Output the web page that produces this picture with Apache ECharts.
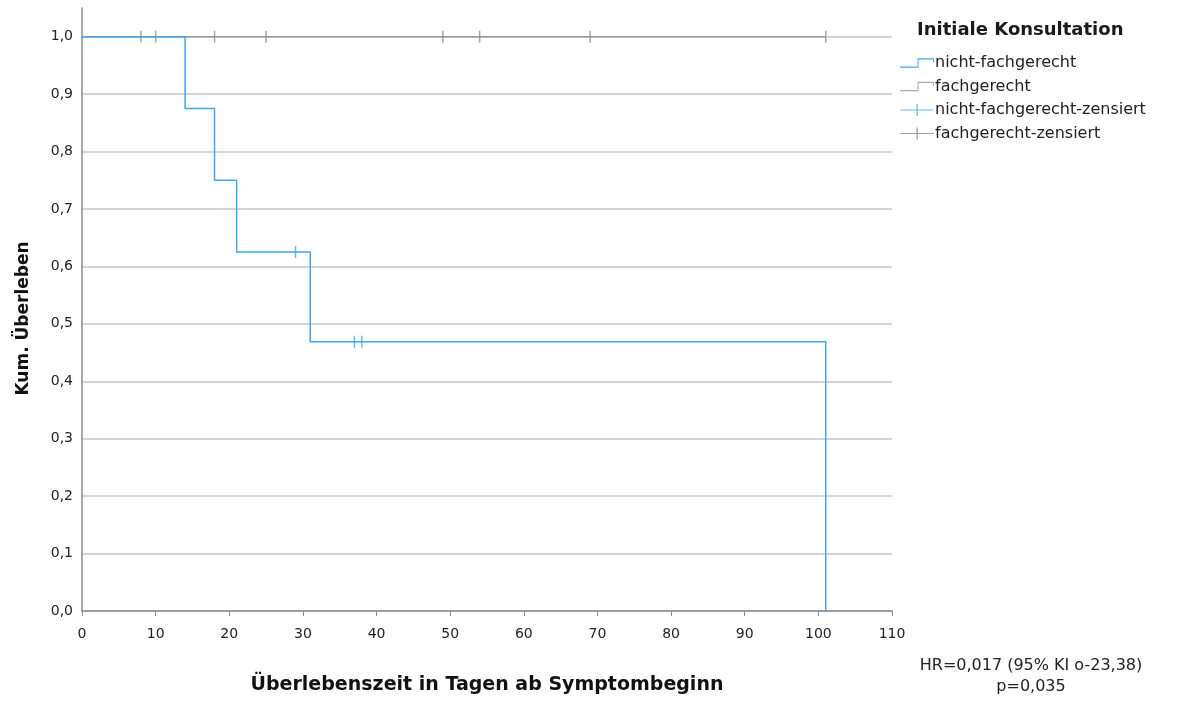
<!DOCTYPE html>
<html>
<head>
<meta charset="utf-8">
<script src="https://cdn.jsdelivr.net/npm/echarts@6/dist/echarts.min.js"></script>
<style>
html,body{margin:0;padding:0;background:#fff;}
#chart{width:1181px;height:702px;}
</style>
</head>
<body>
<div id="chart"></div>
<script>
// Kaplan-Meier data
const blueTimes = [0, 14, 18, 21, 31, 101];
const blueSurvival = [1, 0.875, 0.75, 0.625, 0.46875, 0];
const grayTimes = [0, 101];
const graySurvival = [1, 1];
const blueCensorTimes = [29, 37, 38];
const blueCensorSurvival = [0.625, 0.46875, 0.46875];
const grayCensorTimes = [8, 10, 18, 25, 49, 54, 69, 101];
const grayCensorSurvival = [1, 1, 1, 1, 1, 1, 1, 1];
const seriesNames = ['nicht-fachgerecht', 'fachgerecht', 'nicht-fachgerecht-zensiert', 'fachgerecht-zensiert'];
const xTicks = [0, 10, 20, 30, 40, 50, 60, 70, 80, 90, 100, 110];
const yTicks = [0, 0.1, 0.2, 0.3, 0.4, 0.5, 0.6, 0.7, 0.8, 0.9, 1.0];

const BLUE = '#3ea6ef';
const GRAY = '#9b9b9b';
const FONT = '"DejaVu Sans", "Liberation Sans", Arial, sans-serif';

const pair = (xs, ys) => xs.map((x, i) => [x, ys[i]]);

const stepIcon = 'path://M0,8 L17,8 L17,0 L33,0 L33,4 L32,4 L32,1 L18,1 L18,9 L0,9 Z';
const crossIcon = 'path://M0,5.5 L33,5.5 L33,6.5 L0,6.5 Z M16,0 L17.3,0 L17.3,12 L16,12 Z';

const gridColors = yTicks.map(() => '#c6c6c6').concat(['rgba(0,0,0,0)']);

const chart = echarts.init(document.getElementById('chart'), null, {renderer: 'canvas'});
chart.setOption({
  animation: false,
  backgroundColor: '#fff',
  textStyle: {fontFamily: FONT},
  grid: {left: 82, right: 289, top: 8, bottom: 91, containLabel: false},
  title: {
    text: 'Initiale Konsultation',
    left: 912, top: 16,
    textStyle: {fontFamily: FONT, fontSize: 18, fontWeight: 'bold', color: '#1a1a1a'}
  },
  legend: {
    orient: 'vertical',
    left: 895, top: 50,
    itemWidth: 34, itemHeight: 12, itemGap: 7.5,
    textStyle: {fontFamily: FONT, fontSize: 16, lineHeight: 16, color: '#222', padding: [0, 0, 0, -4]},
    data: [
      {name: seriesNames[0], icon: stepIcon, itemStyle: {color: BLUE}},
      {name: seriesNames[1], icon: stepIcon, itemStyle: {color: '#aaa'}},
      {name: seriesNames[2], icon: crossIcon, itemStyle: {color: BLUE}},
      {name: seriesNames[3], icon: crossIcon, itemStyle: {color: '#888'}}
    ]
  },
  xAxis: {
    type: 'value', min: 0, max: 110, interval: 10,
    name: 'Überlebenszeit in Tagen ab Symptombeginn',
    nameLocation: 'middle', nameGap: 65,
    nameTextStyle: {fontFamily: FONT, fontSize: 19, fontWeight: 'bold', color: '#111'},
    axisLine: {lineStyle: {color: '#8a8a8a', width: 1.5}},
    axisTick: {show: true, length: 5, lineStyle: {color: '#8a8a8a'}},
    axisLabel: {fontFamily: FONT, fontSize: 14, color: '#222', margin: 16,
      formatter: v => xTicks.includes(v) ? String(v) : ''},
    splitLine: {show: false}
  },
  yAxis: {
    type: 'value', min: 0, max: 1.05, interval: 0.1,
    name: 'Kum. Überleben',
    nameLocation: 'middle', nameGap: 50, nameRotate: 90,
    nameTextStyle: {fontFamily: FONT, fontSize: 17, fontWeight: 'bold', color: '#111', padding: [0, 18, 0, 0]},
    axisLine: {show: true, lineStyle: {color: '#8a8a8a', width: 1.5}},
    axisTick: {show: false},
    axisLabel: {fontFamily: FONT, fontSize: 14, color: '#222', margin: 9, showMaxLabel: false,
      formatter: v => v > 1.001 ? '' : v.toFixed(1).replace('.', ',')},
    splitLine: {show: true, lineStyle: {color: gridColors, width: 1.5}}
  },
  series: [
    {
      name: seriesNames[1], type: 'line', step: 'end', symbol: 'none',
      lineStyle: {color: GRAY, width: 1.5}, itemStyle: {color: GRAY},
      data: pair(grayTimes, graySurvival), z: 2
    },
    {
      name: seriesNames[0], type: 'line', step: 'end', symbol: 'none',
      lineStyle: {color: BLUE, width: 1.5}, itemStyle: {color: BLUE},
      data: pair(blueTimes, blueSurvival), z: 3
    },
    {
      name: seriesNames[2], type: 'scatter', symbol: 'rect', symbolSize: [1.5, 12],
      itemStyle: {color: BLUE}, data: pair(blueCensorTimes, blueCensorSurvival), z: 4
    },
    {
      name: seriesNames[3], type: 'scatter', symbol: 'rect', symbolSize: [1.5, 12],
      itemStyle: {color: '#8e8e8e'}, data: pair(grayCensorTimes, grayCensorSurvival), z: 4
    }
  ],
  graphic: [
    {
      type: 'text', x: 1031, y: 655,
      style: {
        text: 'HR=0,017 (95% KI o-23,38)\np=0,035',
        fontFamily: FONT, fontSize: 16, fill: '#222', align: 'center', lineHeight: 21
      }
    }
  ]
});
</script>
</body>
</html>
